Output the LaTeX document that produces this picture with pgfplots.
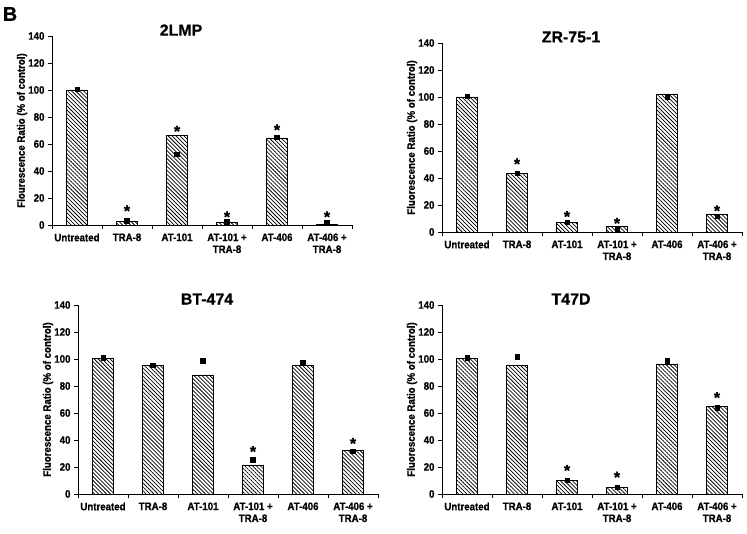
\documentclass[border=0pt]{standalone}
\usepackage{fontspec}
\setmainfont{Liberation Sans}[BoldFeatures={FakeBold=0.6}]
\newfontfamily\lbl[FakeStretch=0.9, BoldFeatures={FakeBold=0.8}]{Liberation Sans}
\usepackage{pgfplots}
\pgfplotsset{compat=1.18}
\usetikzlibrary{patterns.meta}

\pgfplotsset{
  panel/.style={
    scale only axis, width=300bp, height=189bp,
    xmin=0.5, xmax=6.5, ymin=0, ymax=140,
    axis lines=left, axis line style={-, line width=0.7bp},
    xtick={0.5,1.5,...,6.5}, x tick label as interval,
    xticklabels={Untreated, TRA-8, AT-101, {AT-101 +\\TRA-8}, AT-406, {AT-406 +\\TRA-8}},
    ytick={0,20,...,140},
    tick align=outside, major tick length=4bp,
    tick style={black, line width=0.7bp},
    x tick label style={align=center, font=\lbl\bfseries\fontsize{10.8}{12}\selectfont, yshift=-1bp},
    y tick label style={font=\lbl\bfseries\fontsize{10.8}{12}\selectfont},
    /pgf/number format/assume math mode=true,
    ylabel style={at={(axis description cs:-0.1,0.5)}, anchor=center,
      font=\lbl\bfseries\fontsize{10.8}{12}\selectfont},
    title style={at={(0.43,1)}, anchor=center, font=\bfseries\fontsize{16}{17}\selectfont},
    clip=false,
  },
  hbar/.style={ybar, bar width=0.43, draw=black, line width=0.6bp,
    pattern={Lines[angle=-45, distance=2.8bp, line width=0.75bp]}},
  sq/.style={only marks, mark=square*, mark size=2.3bp, black},
  stars/.style={draw=none, mark=none, nodes near coords={*},
    every node near coord/.append style={anchor=center, yshift=-3.5bp,
      font=\bfseries\fontsize{16}{16}\selectfont}},
}

\begin{document}
\begin{tikzpicture}
\path[use as bounding box] (0,0) rectangle (747bp,534bp);
\node[font=\bfseries\fontsize{20}{21}\selectfont] at (10bp,520bp) {B};

% 2LMP
\begin{axis}[panel, at={(52bp,309bp)}, title={2LMP},
  ylabel={Flourescence Ratio (\% of control)}]
\addplot[hbar] coordinates {(1,100) (2,2.5) (3,66.3) (4,2) (5,64.5) (6,0.7)};
\addplot[sq] coordinates {(1,100.5) (2,3) (3,52.5) (4,2.3) (5,65) (6,2)};
\addplot[stars] coordinates {(2,13) (3,72) (4,8.6) (5,73) (6,8.6)};
\end{axis}

% ZR-75-1
\begin{axis}[panel, at={(442bp,302bp)}, title={ZR-75-1},
  ylabel={Fluorescence Ratio (\% of control)}]
\addplot[hbar] coordinates {(1,100) (2,43.3) (3,7.2) (4,4) (5,102.3) (6,13.4)};
\addplot[sq] coordinates {(1,100.5) (2,43.5) (3,7.4) (4,2.2) (5,100.4) (6,11.6)};
\addplot[stars] coordinates {(2,53) (3,14) (4,9) (6,18.3)};
\end{axis}

% BT-474
\begin{axis}[panel, at={(78bp,40bp)}, title={BT-474},
  ylabel={Fluorescence Ratio (\% of control)}]
\addplot[hbar] coordinates {(1,100.3) (2,95) (3,88.2) (4,21.6) (5,95) (6,32.3)};
\addplot[sq] coordinates {(1,100.8) (2,95.5) (3,98.9) (4,25.2) (5,97.2) (6,31.7)};
\addplot[stars] coordinates {(4,34) (6,40)};
\end{axis}

% T47D
\begin{axis}[panel, at={(442bp,40bp)}, title={T47D},
  ylabel={Fluorescence Ratio (\% of control)}]
\addplot[hbar] coordinates {(1,100.3) (2,95.2) (3,10) (4,4.6) (5,96.3) (6,65)};
\addplot[sq] coordinates {(1,100.8) (2,101.8) (3,10.3) (4,5) (5,98.8) (6,64)};
\addplot[stars] coordinates {(3,20) (4,15) (6,74)};
\end{axis}
\end{tikzpicture}
\end{document}
